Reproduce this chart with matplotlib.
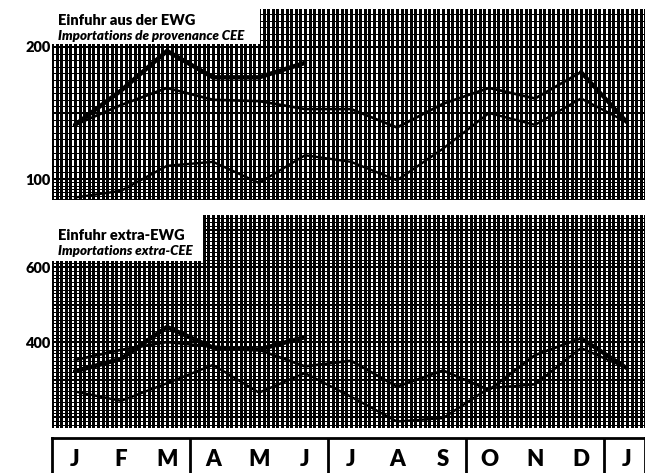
import numpy as np
import matplotlib
matplotlib.use("Agg")
import matplotlib.pyplot as plt
from matplotlib.patches import Rectangle

# ---------------- data ----------------
months = ["J", "F", "M", "A", "M", "J", "J", "A", "S", "O", "N", "D", "J"]

# Einfuhr aus der EWG / Importations de provenance CEE
ewg_prev2 = [86, 91, 110, 113, 97, 118, 113, 99, 123, 150, 141, 161, 143]
ewg_prev1 = [141, 156, 169, 160, 159, 153, 153, 139, 157, 169, 161, 181, 143]
ewg_curr = [141, 167, 197, 177, 177, 188]

# Einfuhr extra-EWG / Importations extra-CEE
extra_prev2 = [268, 243, 290, 339, 265, 317, 254, 188, 197, 277, 287, 384, 330]
extra_prev1 = [352, 379, 400, 387, 379, 335, 350, 281, 324, 272, 365, 410, 330]
extra_curr = [322, 355, 440, 385, 380, 413]

top_ticks = [100, 200]
bottom_ticks = [400, 600]

title_top = ["Einfuhr aus der EWG", "Importations de provenance CEE"]
title_bottom = ["Einfuhr extra-EWG", "Importations extra-CEE"]

# ---------------- layout ----------------
W, H = 645, 473
FONT = "Lato"


def fx(px):
    return px / W


def fy(py):
    return 1 - py / H


fig = plt.figure(figsize=(W / 100, H / 100), dpi=100)
fig.patch.set_facecolor("white")

XL = (-0.5, (645 - 52) / 46 - 0.5)
x_all = np.arange(len(months))


def make_panel(top_px, bot_px, ylim, hminor, hmajor, hextra):
    ax = fig.add_axes([fx(52), fy(bot_px), fx(645) - fx(52), (bot_px - top_px) / H])
    ax.set_xlim(*XL)
    ax.set_ylim(*ylim)
    for s in ax.spines.values():
        s.set_visible(False)
    ax.set_xticks([])
    ax.tick_params(axis="y", length=0, pad=1)
    # graph-paper grid
    xt = ax.get_xaxis_transform()
    yt = ax.get_yaxis_transform()
    ax.vlines(np.arange(-0.5, 13.0, 0.1), 0, 1, transform=xt, color="black",
              lw=0.85, antialiased=False, zorder=1)
    ax.vlines(np.arange(-0.5, 13.0, 1.0), 0, 1, transform=xt, color="black",
              lw=1.4, antialiased=False, zorder=1)
    ax.hlines(hminor, 0, 1, transform=yt, color="black", lw=0.7,
              antialiased=False, zorder=1)
    ax.hlines(hmajor, 0, 1, transform=yt, color="black", lw=1.4,
              antialiased=False, zorder=1)
    if hextra is not None:
        ax.hlines(hextra, 0, 1, transform=yt, color="black", lw=0.7,
                  antialiased=False, zorder=1)
    return ax


# top panel: 200 at y=47px, 100 at y=179px
tp = 1.32
ax1 = make_panel(9, 200, (200 - (200 - 47) / tp, 200 + (47 - 9) / tp),
                 np.arange(85, 230, 5), [100, 150, 200], np.arange(85, 100, 2.5))
# bottom panel: 600 at y=267px, 400 at y=342px
bp = 0.375
ax2 = make_panel(215, 428, (400 - (428 - 342) / bp, 400 + (342 - 215) / bp),
                 np.arange(180, 740, 10), [200, 300, 400, 500, 600, 700], None)

for ax, ticks in ((ax1, top_ticks), (ax2, bottom_ticks)):
    ax.set_yticks(ticks)
    ax.set_yticklabels([str(t) for t in ticks], fontfamily=FONT,
                       fontweight="heavy", fontsize=10.5)

# series
for ax, p2, p1, cur in ((ax1, ewg_prev2, ewg_prev1, ewg_curr),
                        (ax2, extra_prev2, extra_prev1, extra_curr)):
    ax.plot(x_all, p2, color="black", lw=1.7, zorder=5, solid_joinstyle="miter")
    ax.plot(x_all, p1, color="black", lw=1.9, zorder=5, solid_joinstyle="miter")
    ax.plot(x_all[11:13], p1[11:13], color="black", lw=3.0, zorder=6,
            solid_capstyle="round")
    ax.plot(x_all[:len(cur)], cur, color="black", lw=3.2, zorder=6,
            solid_capstyle="round", solid_joinstyle="miter")

# title boxes (white patches over the graph paper)
fig.add_artist(Rectangle((fx(50), fy(44)), fx(260) - fx(50), (44 - 5) / H,
                         transform=fig.transFigure, facecolor="white",
                         edgecolor="none", zorder=10))
fig.add_artist(Rectangle((fx(50), fy(261)), fx(203) - fx(50), (261 - 212) / H,
                         transform=fig.transFigure, facecolor="white",
                         edgecolor="none", zorder=10))

fig.text(fx(58), fy(25), title_top[0], fontfamily=FONT, fontweight="heavy",
         fontsize=10.5, va="baseline", ha="left", zorder=11)
fig.text(fx(58), fy(40), title_top[1], fontfamily=FONT, fontweight="heavy",
         style="italic", fontsize=9.6, va="baseline", ha="left", zorder=11)
fig.text(fx(58), fy(240), title_bottom[0], fontfamily=FONT, fontweight="heavy",
         fontsize=10.5, va="baseline", ha="left", zorder=11)
fig.text(fx(58), fy(255), title_bottom[1], fontfamily=FONT, fontweight="heavy",
         style="italic", fontsize=9.6, va="baseline", ha="left", zorder=11)

# month strip
ax3 = fig.add_axes([fx(52), fy(500), fx(645) - fx(52), (500 - 438) / H])
ax3.set_xlim(*XL)
ax3.set_ylim(0, 1)
ax3.set_xticks([])
ax3.set_yticks([])
for s in ax3.spines.values():
    s.set_linewidth(2.0)
for b in (2.5, 5.5, 8.5, 11.5):
    ax3.axvline(b, color="black", lw=2.0)
ytxt = (500 - 459) / (500 - 438)
for i, m in enumerate(months):
    ax3.text(i, ytxt, m, ha="center", va="center", fontfamily=FONT,
             fontweight="heavy", fontsize=16)

fig.savefig("out.png", dpi=100, facecolor="white")
